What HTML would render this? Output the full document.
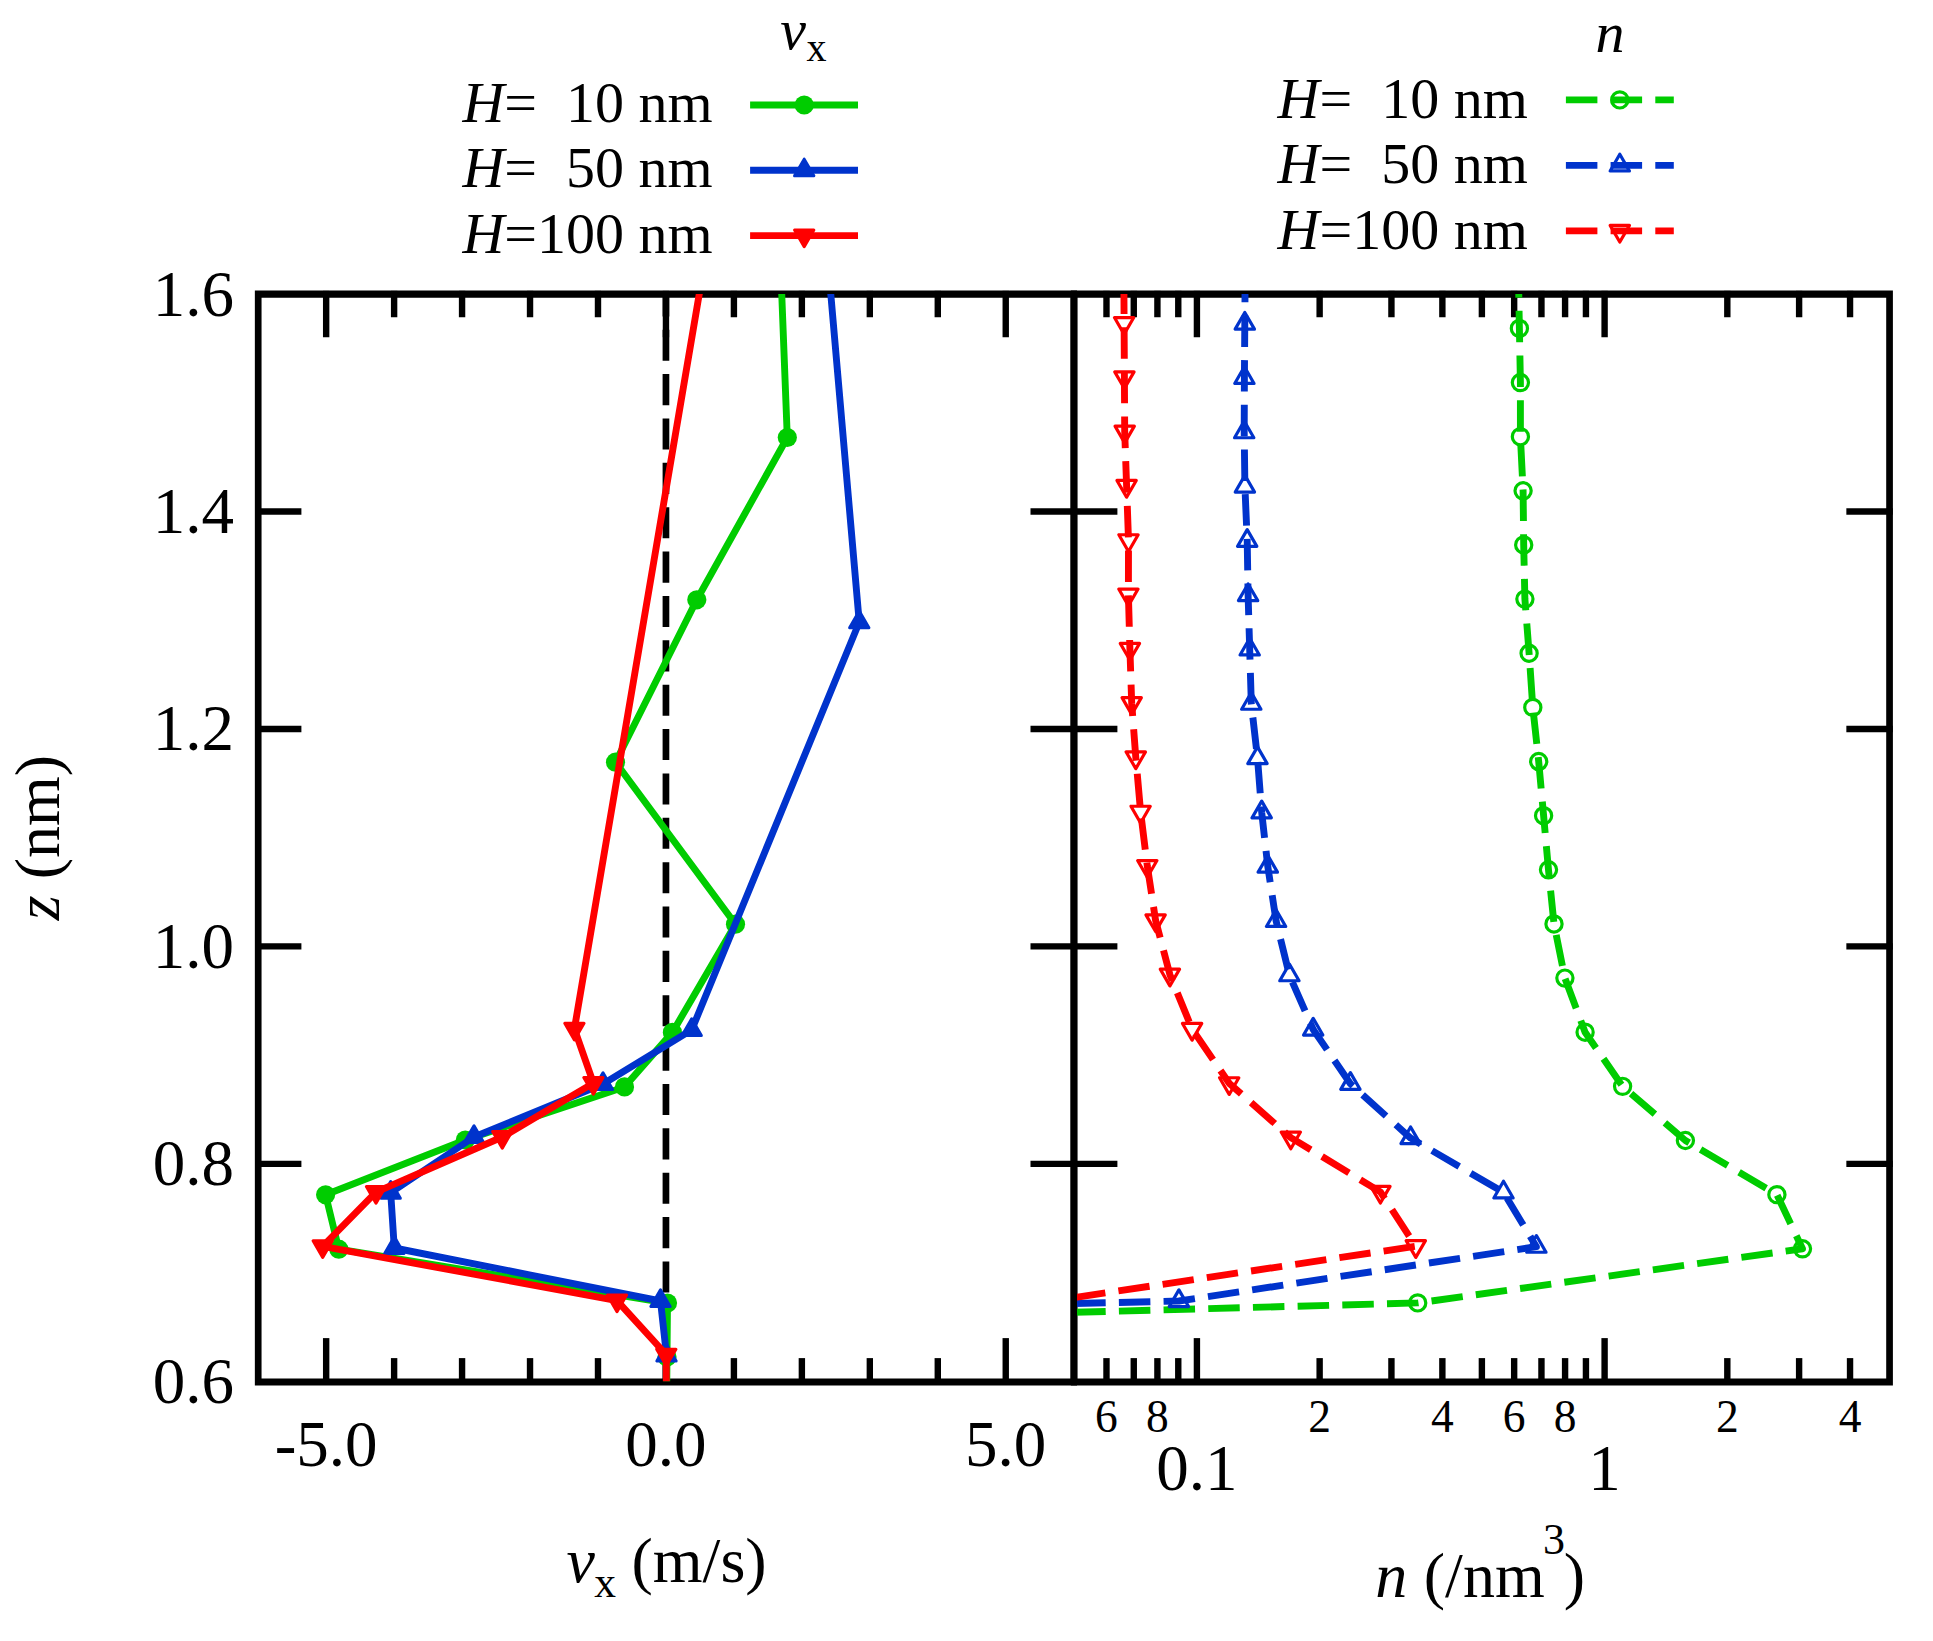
<!DOCTYPE html>
<html><head><meta charset="utf-8"><title>Figure</title><style>
html,body{margin:0;padding:0;background:#fff;overflow:hidden;}
svg{display:block;}
</style></head><body>
<svg width="1933" height="1641" viewBox="0 0 1933 1641">
<rect width="1933" height="1641" fill="#fff"/>
<defs>
<clipPath id="cl"><rect x="258.2" y="294.05" width="815.50" height="1087.25"/></clipPath>
<clipPath id="cr"><rect x="1074.2" y="294.05" width="815.35" height="1087.25"/></clipPath>
</defs>
<path d="M1070.85,290.55 H1892.90 V1385.55 H1070.85 Z M1077.55,297.65 V1378.45 H1886.20 V297.65 Z" fill="#000" fill-rule="evenodd"/>
<g stroke="#000" stroke-width="6.4" stroke-linecap="square">
<line x1="1106.48" y1="294.05" x2="1106.48" y2="314.05" />
<line x1="1106.48" y1="1381.3" x2="1106.48" y2="1361.3" />
<line x1="1133.77" y1="294.05" x2="1133.77" y2="314.05" />
<line x1="1133.77" y1="1381.3" x2="1133.77" y2="1361.3" />
<line x1="1157.41" y1="294.05" x2="1157.41" y2="314.05" />
<line x1="1157.41" y1="1381.3" x2="1157.41" y2="1361.3" />
<line x1="1178.27" y1="294.05" x2="1178.27" y2="314.05" />
<line x1="1178.27" y1="1381.3" x2="1178.27" y2="1361.3" />
<line x1="1319.64" y1="294.05" x2="1319.64" y2="314.05" />
<line x1="1319.64" y1="1381.3" x2="1319.64" y2="1361.3" />
<line x1="1391.43" y1="294.05" x2="1391.43" y2="314.05" />
<line x1="1391.43" y1="1381.3" x2="1391.43" y2="1361.3" />
<line x1="1442.37" y1="294.05" x2="1442.37" y2="314.05" />
<line x1="1442.37" y1="1381.3" x2="1442.37" y2="1361.3" />
<line x1="1481.88" y1="294.05" x2="1481.88" y2="314.05" />
<line x1="1481.88" y1="1381.3" x2="1481.88" y2="1361.3" />
<line x1="1514.16" y1="294.05" x2="1514.16" y2="314.05" />
<line x1="1514.16" y1="1381.3" x2="1514.16" y2="1361.3" />
<line x1="1541.45" y1="294.05" x2="1541.45" y2="314.05" />
<line x1="1541.45" y1="1381.3" x2="1541.45" y2="1361.3" />
<line x1="1565.09" y1="294.05" x2="1565.09" y2="314.05" />
<line x1="1565.09" y1="1381.3" x2="1565.09" y2="1361.3" />
<line x1="1585.94" y1="294.05" x2="1585.94" y2="314.05" />
<line x1="1585.94" y1="1381.3" x2="1585.94" y2="1361.3" />
<line x1="1727.32" y1="294.05" x2="1727.32" y2="314.05" />
<line x1="1727.32" y1="1381.3" x2="1727.32" y2="1361.3" />
<line x1="1799.11" y1="294.05" x2="1799.11" y2="314.05" />
<line x1="1799.11" y1="1381.3" x2="1799.11" y2="1361.3" />
<line x1="1850.04" y1="294.05" x2="1850.04" y2="314.05" />
<line x1="1850.04" y1="1381.3" x2="1850.04" y2="1361.3" />
<line x1="1196.92" y1="294.05" x2="1196.92" y2="334.05" />
<line x1="1196.92" y1="1381.3" x2="1196.92" y2="1341.3" />
<line x1="1604.60" y1="294.05" x2="1604.60" y2="334.05" />
<line x1="1604.60" y1="1381.3" x2="1604.60" y2="1341.3" />
<line x1="1074.2" y1="1163.85" x2="1114.2" y2="1163.85" />
<line x1="1889.55" y1="1163.85" x2="1849.55" y2="1163.85" />
<line x1="1074.2" y1="946.40" x2="1114.2" y2="946.40" />
<line x1="1889.55" y1="946.40" x2="1849.55" y2="946.40" />
<line x1="1074.2" y1="728.95" x2="1114.2" y2="728.95" />
<line x1="1889.55" y1="728.95" x2="1849.55" y2="728.95" />
<line x1="1074.2" y1="511.50" x2="1114.2" y2="511.50" />
<line x1="1889.55" y1="511.50" x2="1849.55" y2="511.50" />
</g>
<g font-family="Liberation Serif, serif" font-size="45.5" text-anchor="middle" fill="#000">
<text x="1106.48" y="1431.5">6</text>
<text x="1157.41" y="1431.5">8</text>
<text x="1319.64" y="1431.5">2</text>
<text x="1442.37" y="1431.5">4</text>
<text x="1514.16" y="1431.5">6</text>
<text x="1565.09" y="1431.5">8</text>
<text x="1727.32" y="1431.5">2</text>
<text x="1850.04" y="1431.5">4</text>
</g>
<g font-family="Liberation Serif, serif" font-size="65" text-anchor="middle" fill="#000">
<text x="1196.92" y="1489.6">0.1</text>
<text x="1604.60" y="1489.6">1</text>
</g>
<path d="M1074.20,1312.30 L1417.70,1302.92 L1802.50,1248.78 L1776.90,1194.64 L1685.40,1140.50 L1622.60,1086.36 L1585.10,1032.22 L1564.90,978.08 L1554.00,923.94 L1548.50,869.80 L1543.60,815.66 L1538.70,761.52 L1532.80,707.38 L1529.10,653.24 L1524.90,599.10 L1523.70,544.96 L1523.10,490.82 L1520.40,436.68 L1520.40,382.54 L1519.40,328.40 L1518.77,294.05" fill="none" stroke="#00cc00" stroke-width="6.9" stroke-linejoin="round" stroke-linecap="butt" stroke-dasharray="31.5 13.2"/>
<circle cx="1519.40" cy="328.40" r="8.10" fill="none" stroke="#00cc00" stroke-width="3.2"/>
<circle cx="1520.40" cy="382.54" r="8.10" fill="none" stroke="#00cc00" stroke-width="3.2"/>
<circle cx="1520.40" cy="436.68" r="8.10" fill="none" stroke="#00cc00" stroke-width="3.2"/>
<circle cx="1523.10" cy="490.82" r="8.10" fill="none" stroke="#00cc00" stroke-width="3.2"/>
<circle cx="1523.70" cy="544.96" r="8.10" fill="none" stroke="#00cc00" stroke-width="3.2"/>
<circle cx="1524.90" cy="599.10" r="8.10" fill="none" stroke="#00cc00" stroke-width="3.2"/>
<circle cx="1529.10" cy="653.24" r="8.10" fill="none" stroke="#00cc00" stroke-width="3.2"/>
<circle cx="1532.80" cy="707.38" r="8.10" fill="none" stroke="#00cc00" stroke-width="3.2"/>
<circle cx="1538.70" cy="761.52" r="8.10" fill="none" stroke="#00cc00" stroke-width="3.2"/>
<circle cx="1543.60" cy="815.66" r="8.10" fill="none" stroke="#00cc00" stroke-width="3.2"/>
<circle cx="1548.50" cy="869.80" r="8.10" fill="none" stroke="#00cc00" stroke-width="3.2"/>
<circle cx="1554.00" cy="923.94" r="8.10" fill="none" stroke="#00cc00" stroke-width="3.2"/>
<circle cx="1564.90" cy="978.08" r="8.10" fill="none" stroke="#00cc00" stroke-width="3.2"/>
<circle cx="1585.10" cy="1032.22" r="8.10" fill="none" stroke="#00cc00" stroke-width="3.2"/>
<circle cx="1622.60" cy="1086.36" r="8.10" fill="none" stroke="#00cc00" stroke-width="3.2"/>
<circle cx="1685.40" cy="1140.50" r="8.10" fill="none" stroke="#00cc00" stroke-width="3.2"/>
<circle cx="1776.90" cy="1194.64" r="8.10" fill="none" stroke="#00cc00" stroke-width="3.2"/>
<circle cx="1802.50" cy="1248.78" r="8.10" fill="none" stroke="#00cc00" stroke-width="3.2"/>
<circle cx="1417.70" cy="1302.92" r="8.10" fill="none" stroke="#00cc00" stroke-width="3.2"/>
<path d="M1074.20,1303.50 L1178.90,1301.00 L1536.40,1246.70 L1503.50,1192.40 L1410.60,1138.10 L1350.40,1083.80 L1313.20,1029.50 L1289.40,975.20 L1276.10,920.90 L1267.80,866.60 L1261.70,812.30 L1257.50,758.00 L1251.30,703.70 L1249.70,649.40 L1248.10,595.10 L1247.20,540.80 L1244.90,486.50 L1244.20,432.20 L1244.40,377.90 L1244.80,323.60 L1245.02,294.05" fill="none" stroke="#0033cc" stroke-width="6.9" stroke-linejoin="round" stroke-linecap="butt" stroke-dasharray="31.5 13.2"/>
<polygon points="1244.80,312.46 1235.15,329.17 1254.45,329.17" fill="none" stroke="#0033cc" stroke-width="3.2" stroke-linejoin="round"/>
<polygon points="1244.40,366.76 1234.75,383.47 1254.05,383.47" fill="none" stroke="#0033cc" stroke-width="3.2" stroke-linejoin="round"/>
<polygon points="1244.20,421.06 1234.55,437.77 1253.85,437.77" fill="none" stroke="#0033cc" stroke-width="3.2" stroke-linejoin="round"/>
<polygon points="1244.90,475.36 1235.25,492.07 1254.55,492.07" fill="none" stroke="#0033cc" stroke-width="3.2" stroke-linejoin="round"/>
<polygon points="1247.20,529.66 1237.55,546.37 1256.85,546.37" fill="none" stroke="#0033cc" stroke-width="3.2" stroke-linejoin="round"/>
<polygon points="1248.10,583.96 1238.45,600.67 1257.75,600.67" fill="none" stroke="#0033cc" stroke-width="3.2" stroke-linejoin="round"/>
<polygon points="1249.70,638.26 1240.05,654.97 1259.35,654.97" fill="none" stroke="#0033cc" stroke-width="3.2" stroke-linejoin="round"/>
<polygon points="1251.30,692.56 1241.65,709.27 1260.95,709.27" fill="none" stroke="#0033cc" stroke-width="3.2" stroke-linejoin="round"/>
<polygon points="1257.50,746.86 1247.85,763.57 1267.15,763.57" fill="none" stroke="#0033cc" stroke-width="3.2" stroke-linejoin="round"/>
<polygon points="1261.70,801.16 1252.05,817.87 1271.35,817.87" fill="none" stroke="#0033cc" stroke-width="3.2" stroke-linejoin="round"/>
<polygon points="1267.80,855.46 1258.15,872.17 1277.45,872.17" fill="none" stroke="#0033cc" stroke-width="3.2" stroke-linejoin="round"/>
<polygon points="1276.10,909.76 1266.45,926.47 1285.75,926.47" fill="none" stroke="#0033cc" stroke-width="3.2" stroke-linejoin="round"/>
<polygon points="1289.40,964.06 1279.75,980.77 1299.05,980.77" fill="none" stroke="#0033cc" stroke-width="3.2" stroke-linejoin="round"/>
<polygon points="1313.20,1018.36 1303.55,1035.07 1322.85,1035.07" fill="none" stroke="#0033cc" stroke-width="3.2" stroke-linejoin="round"/>
<polygon points="1350.40,1072.66 1340.75,1089.37 1360.05,1089.37" fill="none" stroke="#0033cc" stroke-width="3.2" stroke-linejoin="round"/>
<polygon points="1410.60,1126.96 1400.95,1143.67 1420.25,1143.67" fill="none" stroke="#0033cc" stroke-width="3.2" stroke-linejoin="round"/>
<polygon points="1503.50,1181.26 1493.85,1197.97 1513.15,1197.97" fill="none" stroke="#0033cc" stroke-width="3.2" stroke-linejoin="round"/>
<polygon points="1536.40,1235.56 1526.75,1252.27 1546.05,1252.27" fill="none" stroke="#0033cc" stroke-width="3.2" stroke-linejoin="round"/>
<polygon points="1178.90,1289.86 1169.25,1306.57 1188.55,1306.57" fill="none" stroke="#0033cc" stroke-width="3.2" stroke-linejoin="round"/>
<path d="M1074.20,1297.60 L1415.80,1246.20 L1380.40,1191.90 L1290.80,1137.60 L1229.20,1083.30 L1192.10,1029.00 L1169.90,974.70 L1155.60,920.40 L1147.30,866.10 L1140.60,811.80 L1135.80,757.50 L1131.70,703.20 L1129.90,648.90 L1128.40,594.60 L1128.50,540.30 L1126.60,486.00 L1124.70,431.70 L1124.40,377.40 L1124.10,323.10 L1123.94,294.05" fill="none" stroke="#ff0000" stroke-width="6.9" stroke-linejoin="round" stroke-linecap="butt" stroke-dasharray="31.5 13.2"/>
<polygon points="1124.10,334.24 1114.45,317.53 1133.75,317.53" fill="none" stroke="#ff0000" stroke-width="3.2" stroke-linejoin="round"/>
<polygon points="1124.40,388.54 1114.75,371.83 1134.05,371.83" fill="none" stroke="#ff0000" stroke-width="3.2" stroke-linejoin="round"/>
<polygon points="1124.70,442.84 1115.05,426.13 1134.35,426.13" fill="none" stroke="#ff0000" stroke-width="3.2" stroke-linejoin="round"/>
<polygon points="1126.60,497.14 1116.95,480.43 1136.25,480.43" fill="none" stroke="#ff0000" stroke-width="3.2" stroke-linejoin="round"/>
<polygon points="1128.50,551.44 1118.85,534.73 1138.15,534.73" fill="none" stroke="#ff0000" stroke-width="3.2" stroke-linejoin="round"/>
<polygon points="1128.40,605.74 1118.75,589.03 1138.05,589.03" fill="none" stroke="#ff0000" stroke-width="3.2" stroke-linejoin="round"/>
<polygon points="1129.90,660.04 1120.25,643.33 1139.55,643.33" fill="none" stroke="#ff0000" stroke-width="3.2" stroke-linejoin="round"/>
<polygon points="1131.70,714.34 1122.05,697.63 1141.35,697.63" fill="none" stroke="#ff0000" stroke-width="3.2" stroke-linejoin="round"/>
<polygon points="1135.80,768.64 1126.15,751.93 1145.45,751.93" fill="none" stroke="#ff0000" stroke-width="3.2" stroke-linejoin="round"/>
<polygon points="1140.60,822.94 1130.95,806.23 1150.25,806.23" fill="none" stroke="#ff0000" stroke-width="3.2" stroke-linejoin="round"/>
<polygon points="1147.30,877.24 1137.65,860.53 1156.95,860.53" fill="none" stroke="#ff0000" stroke-width="3.2" stroke-linejoin="round"/>
<polygon points="1155.60,931.54 1145.95,914.83 1165.25,914.83" fill="none" stroke="#ff0000" stroke-width="3.2" stroke-linejoin="round"/>
<polygon points="1169.90,985.84 1160.25,969.13 1179.55,969.13" fill="none" stroke="#ff0000" stroke-width="3.2" stroke-linejoin="round"/>
<polygon points="1192.10,1040.14 1182.45,1023.43 1201.75,1023.43" fill="none" stroke="#ff0000" stroke-width="3.2" stroke-linejoin="round"/>
<polygon points="1229.20,1094.44 1219.55,1077.73 1238.85,1077.73" fill="none" stroke="#ff0000" stroke-width="3.2" stroke-linejoin="round"/>
<polygon points="1290.80,1148.74 1281.15,1132.03 1300.45,1132.03" fill="none" stroke="#ff0000" stroke-width="3.2" stroke-linejoin="round"/>
<polygon points="1380.40,1203.04 1370.75,1186.33 1390.05,1186.33" fill="none" stroke="#ff0000" stroke-width="3.2" stroke-linejoin="round"/>
<polygon points="1415.80,1257.34 1406.15,1240.63 1425.45,1240.63" fill="none" stroke="#ff0000" stroke-width="3.2" stroke-linejoin="round"/>
<g font-family="Liberation Serif, serif" font-size="58" fill="#000" text-anchor="end" style="white-space:pre">
<text x="1527.8" y="117.9" xml:space="preserve"><tspan font-style="italic">H</tspan>=  10 nm</text>
<text x="1527.8" y="183.4" xml:space="preserve"><tspan font-style="italic">H</tspan>=  50 nm</text>
<text x="1527.8" y="248.9" xml:space="preserve"><tspan font-style="italic">H</tspan>=100 nm</text>
</g>
<text x="1610" y="52.3" font-family="Liberation Serif, serif" font-size="58" font-style="italic" text-anchor="middle">n</text>
<line x1="1565.9" y1="99.9" x2="1673.8" y2="99.9" stroke="#00cc00" stroke-width="6.9" stroke-dasharray="31.5 13.2"/>
<circle cx="1619.80" cy="99.90" r="8.10" fill="none" stroke="#00cc00" stroke-width="3.2"/>
<line x1="1565.9" y1="165.4" x2="1673.8" y2="165.4" stroke="#0033cc" stroke-width="6.9" stroke-dasharray="31.5 13.2"/>
<polygon points="1619.80,154.26 1610.15,170.97 1629.45,170.97" fill="none" stroke="#0033cc" stroke-width="3.2" stroke-linejoin="round"/>
<line x1="1565.9" y1="230.9" x2="1673.8" y2="230.9" stroke="#ff0000" stroke-width="6.9" stroke-dasharray="31.5 13.2"/>
<polygon points="1619.80,242.04 1610.15,225.33 1629.45,225.33" fill="none" stroke="#ff0000" stroke-width="3.2" stroke-linejoin="round"/>
<path d="M254.85,290.55 H1077.05 V1385.55 H254.85 Z M261.55,297.65 V1378.45 H1070.35 V297.65 Z" fill="#000" fill-rule="evenodd"/>
<g stroke="#000" stroke-width="6.4" stroke-linecap="square">
<line x1="394.12" y1="294.05" x2="394.12" y2="314.05" />
<line x1="394.12" y1="1381.3" x2="394.12" y2="1361.3" />
<line x1="462.07" y1="294.05" x2="462.07" y2="314.05" />
<line x1="462.07" y1="1381.3" x2="462.07" y2="1361.3" />
<line x1="530.03" y1="294.05" x2="530.03" y2="314.05" />
<line x1="530.03" y1="1381.3" x2="530.03" y2="1361.3" />
<line x1="597.99" y1="294.05" x2="597.99" y2="314.05" />
<line x1="597.99" y1="1381.3" x2="597.99" y2="1361.3" />
<line x1="733.91" y1="294.05" x2="733.91" y2="314.05" />
<line x1="733.91" y1="1381.3" x2="733.91" y2="1361.3" />
<line x1="801.87" y1="294.05" x2="801.87" y2="314.05" />
<line x1="801.87" y1="1381.3" x2="801.87" y2="1361.3" />
<line x1="869.83" y1="294.05" x2="869.83" y2="314.05" />
<line x1="869.83" y1="1381.3" x2="869.83" y2="1361.3" />
<line x1="937.78" y1="294.05" x2="937.78" y2="314.05" />
<line x1="937.78" y1="1381.3" x2="937.78" y2="1361.3" />
<line x1="326.16" y1="294.05" x2="326.16" y2="334.05" />
<line x1="326.16" y1="1381.3" x2="326.16" y2="1341.3" />
<line x1="665.95" y1="294.05" x2="665.95" y2="334.05" />
<line x1="665.95" y1="1381.3" x2="665.95" y2="1341.3" />
<line x1="1005.74" y1="294.05" x2="1005.74" y2="334.05" />
<line x1="1005.74" y1="1381.3" x2="1005.74" y2="1341.3" />
<line x1="258.2" y1="1163.85" x2="298.2" y2="1163.85" />
<line x1="1073.7" y1="1163.85" x2="1033.7" y2="1163.85" />
<line x1="258.2" y1="946.40" x2="298.2" y2="946.40" />
<line x1="1073.7" y1="946.40" x2="1033.7" y2="946.40" />
<line x1="258.2" y1="728.95" x2="298.2" y2="728.95" />
<line x1="1073.7" y1="728.95" x2="1033.7" y2="728.95" />
<line x1="258.2" y1="511.50" x2="298.2" y2="511.50" />
<line x1="1073.7" y1="511.50" x2="1033.7" y2="511.50" />
</g>
<g font-family="Liberation Serif, serif" font-size="65" fill="#000">
<text x="234" y="1402.8" text-anchor="end">0.6</text>
<text x="234" y="1185.3" text-anchor="end">0.8</text>
<text x="234" y="967.9" text-anchor="end">1.0</text>
<text x="234" y="750.4" text-anchor="end">1.2</text>
<text x="234" y="533.0" text-anchor="end">1.4</text>
<text x="234" y="315.5" text-anchor="end">1.6</text>
<text x="326.16" y="1465.7" text-anchor="middle">-5.0</text>
<text x="665.95" y="1465.7" text-anchor="middle">0.0</text>
<text x="1005.74" y="1465.7" text-anchor="middle">5.0</text>
</g>
<line x1="665.95" y1="1381.3" x2="665.95" y2="294.05" stroke="#000" stroke-width="6.7" stroke-dasharray="31.1 13.27"/>
<path d="M666.42,1420.00 L667.00,1357.00 L667.50,1303.00 L338.80,1249.20 L325.60,1194.80 L465.30,1140.00 L624.50,1086.90 L672.40,1032.40 L735.50,924.20 L615.50,762.20 L696.80,599.80 L787.30,437.50 L780.03,250.00" fill="none" stroke="#00cc00" stroke-width="6.9" stroke-linejoin="round" stroke-linecap="butt" clip-path="url(#cl)"/>
<circle cx="667.00" cy="1357.00" r="9.60" fill="#00cc00"/>
<circle cx="667.50" cy="1303.00" r="9.60" fill="#00cc00"/>
<circle cx="338.80" cy="1249.20" r="9.60" fill="#00cc00"/>
<circle cx="325.60" cy="1194.80" r="9.60" fill="#00cc00"/>
<circle cx="465.30" cy="1140.00" r="9.60" fill="#00cc00"/>
<circle cx="624.50" cy="1086.90" r="9.60" fill="#00cc00"/>
<circle cx="672.40" cy="1032.40" r="9.60" fill="#00cc00"/>
<circle cx="735.50" cy="924.20" r="9.60" fill="#00cc00"/>
<circle cx="615.50" cy="762.20" r="9.60" fill="#00cc00"/>
<circle cx="696.80" cy="599.80" r="9.60" fill="#00cc00"/>
<circle cx="787.30" cy="437.50" r="9.60" fill="#00cc00"/>
<path d="M666.50,1355.40 L660.50,1301.00 L394.30,1248.00 L390.70,1192.60 L474.00,1137.00 L603.00,1084.00 L691.70,1029.90 L859.25,622.20 L826.96,250.00" fill="none" stroke="#0033cc" stroke-width="6.9" stroke-linejoin="round" stroke-linecap="butt" clip-path="url(#cl)"/>
<polygon points="666.50,1344.26 656.85,1360.97 676.15,1360.97" fill="#0033cc" stroke="#0033cc" stroke-width="3" stroke-linejoin="round"/>
<polygon points="660.50,1289.86 650.85,1306.57 670.15,1306.57" fill="#0033cc" stroke="#0033cc" stroke-width="3" stroke-linejoin="round"/>
<polygon points="394.30,1236.86 384.65,1253.57 403.95,1253.57" fill="#0033cc" stroke="#0033cc" stroke-width="3" stroke-linejoin="round"/>
<polygon points="390.70,1181.46 381.05,1198.17 400.35,1198.17" fill="#0033cc" stroke="#0033cc" stroke-width="3" stroke-linejoin="round"/>
<polygon points="474.00,1125.86 464.35,1142.57 483.65,1142.57" fill="#0033cc" stroke="#0033cc" stroke-width="3" stroke-linejoin="round"/>
<polygon points="603.00,1072.86 593.35,1089.57 612.65,1089.57" fill="#0033cc" stroke="#0033cc" stroke-width="3" stroke-linejoin="round"/>
<polygon points="691.70,1018.76 682.05,1035.47 701.35,1035.47" fill="#0033cc" stroke="#0033cc" stroke-width="3" stroke-linejoin="round"/>
<polygon points="859.25,611.06 849.60,627.77 868.90,627.77" fill="#0033cc" stroke="#0033cc" stroke-width="3" stroke-linejoin="round"/>
<path d="M666.30,1420.00 L666.30,1354.70 L617.00,1300.60 L322.70,1246.30 L376.00,1192.10 L502.30,1137.00 L593.40,1083.10 L574.40,1028.90 L706.73,250.00" fill="none" stroke="#ff0000" stroke-width="6.9" stroke-linejoin="round" stroke-linecap="butt" clip-path="url(#cl)"/>
<polygon points="666.30,1365.84 656.65,1349.13 675.95,1349.13" fill="#ff0000" stroke="#ff0000" stroke-width="3" stroke-linejoin="round"/>
<polygon points="617.00,1311.74 607.35,1295.03 626.65,1295.03" fill="#ff0000" stroke="#ff0000" stroke-width="3" stroke-linejoin="round"/>
<polygon points="322.70,1257.44 313.05,1240.73 332.35,1240.73" fill="#ff0000" stroke="#ff0000" stroke-width="3" stroke-linejoin="round"/>
<polygon points="376.00,1203.24 366.35,1186.53 385.65,1186.53" fill="#ff0000" stroke="#ff0000" stroke-width="3" stroke-linejoin="round"/>
<polygon points="502.30,1148.14 492.65,1131.43 511.95,1131.43" fill="#ff0000" stroke="#ff0000" stroke-width="3" stroke-linejoin="round"/>
<polygon points="593.40,1094.24 583.75,1077.53 603.05,1077.53" fill="#ff0000" stroke="#ff0000" stroke-width="3" stroke-linejoin="round"/>
<polygon points="574.40,1040.04 564.75,1023.33 584.05,1023.33" fill="#ff0000" stroke="#ff0000" stroke-width="3" stroke-linejoin="round"/>
<g font-family="Liberation Serif, serif" font-size="58" fill="#000" text-anchor="end" style="white-space:pre">
<text x="712.6" y="121.9" xml:space="preserve"><tspan font-style="italic">H</tspan>=  10 nm</text>
<text x="712.6" y="187.2" xml:space="preserve"><tspan font-style="italic">H</tspan>=  50 nm</text>
<text x="712.6" y="252.5" xml:space="preserve"><tspan font-style="italic">H</tspan>=100 nm</text>
</g>
<text x="780.3" y="48.6" font-family="Liberation Serif, serif" font-size="58" font-style="italic" fill="#000">v</text>
<text x="806.5" y="61" font-family="Liberation Serif, serif" font-size="40" fill="#000">x</text>
<line x1="750.1" y1="105.0" x2="858" y2="105.0" stroke="#00cc00" stroke-width="6.9"/>
<circle cx="804.20" cy="105.00" r="9.60" fill="#00cc00"/>
<line x1="750.1" y1="170.3" x2="858" y2="170.3" stroke="#0033cc" stroke-width="6.9"/>
<polygon points="804.20,159.16 794.55,175.87 813.85,175.87" fill="#0033cc" stroke="#0033cc" stroke-width="3" stroke-linejoin="round"/>
<line x1="750.1" y1="235.6" x2="858" y2="235.6" stroke="#ff0000" stroke-width="6.9"/>
<polygon points="804.20,246.74 794.55,230.03 813.85,230.03" fill="#ff0000" stroke="#ff0000" stroke-width="3" stroke-linejoin="round"/>
<text x="566.5" y="1582" font-family="Liberation Serif, serif" font-size="64" font-style="italic" fill="#000">v</text>
<text x="594.3" y="1596.6" font-family="Liberation Serif, serif" font-size="43.5" fill="#000">x</text>
<text x="631.5" y="1582" font-family="Liberation Serif, serif" font-size="64" fill="#000">(m/s)</text>
<text x="1375.2" y="1596.8" font-family="Liberation Serif, serif" font-size="64" font-style="italic" fill="#000">n</text>
<text x="1423.8" y="1596.8" font-family="Liberation Serif, serif" font-size="64" fill="#000">(/nm</text>
<text x="1542.9" y="1554" font-family="Liberation Serif, serif" font-size="44" fill="#000">3</text>
<text x="1563.7" y="1596.8" font-family="Liberation Serif, serif" font-size="64" fill="#000">)</text>
<text transform="translate(59.1,837.5) rotate(-90)" font-family="Liberation Serif, serif" font-size="64" fill="#000" text-anchor="middle"><tspan font-style="italic">z</tspan> (nm)</text>
</svg></body></html>
